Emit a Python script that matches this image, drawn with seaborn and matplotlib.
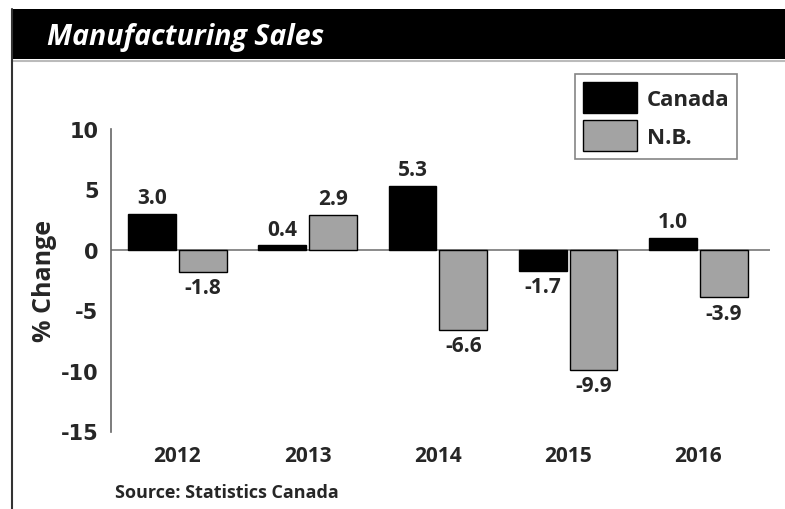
import pandas as pd
import seaborn as sns
import matplotlib.pyplot as plt
from matplotlib.patches import Rectangle
from matplotlib.lines import Line2D

years = ["2012", "2013", "2014", "2015", "2016"]
canada = [3.0, 0.4, 5.3, -1.7, 1.0]
nb = [-1.8, 2.9, -6.6, -9.9, -3.9]
regions = ["Canada", "N.B."]

df = pd.DataFrame({
    "Year": years * 2,
    "Change": canada + nb,
    "Region": [regions[0]] * len(years) + [regions[1]] * len(years),
})

sns.set_style("white")
plt.rcParams["font.family"] = ["Open Sans", "DejaVu Sans"]

W, H = 785, 510
fig = plt.figure(figsize=(W / 100, H / 100), dpi=100)
ax = fig.add_axes([111 / W, 1 - 432.5 / H, (770 - 111) / W, (432.5 - 130) / H])

sns.barplot(data=df, x="Year", y="Change", hue="Region",
            palette=["#000000", "#a3a3a3"], edgecolor="black", linewidth=1,
            width=0.78, gap=0.06, ax=ax)

for cont in ax.containers:
    ax.bar_label(cont, fmt="%.1f", padding=4, fontsize=15, fontweight="bold")

ax.set_ylim(-15, 10)
ax.set_xlim(-0.51, 4.55)
ax.set_yticks([-15, -10, -5, 0, 5, 10])
ax.set_yticklabels(["-15", "-10", "-5", "0", "5", "10"],
                   family="DejaVu Sans", fontweight="bold", fontsize=15)
ax.axhline(0, color="#777777", linewidth=1.2, zorder=0)
for s in ["top", "right", "bottom"]:
    ax.spines[s].set_visible(False)
ax.spines["left"].set_color("#666666")
ax.spines["left"].set_linewidth(1.2)
ax.tick_params(axis="y", length=0, pad=9)
ax.tick_params(axis="x", length=0, pad=10, labelsize=15)
for lab in ax.get_xticklabels():
    lab.set_fontweight("bold")
ax.set_xlabel("")
ax.set_ylabel("% Change", fontsize=18, fontweight="bold", labelpad=3)

leg = ax.legend(loc="upper right", bbox_to_anchor=(737 / W, 1 - 75 / H),
                bbox_transform=fig.transFigure, fontsize=16, frameon=True,
                fancybox=False, handlelength=2.4, handleheight=1.8,
                borderpad=0.35, labelspacing=0.3, handletextpad=0.45,
                borderaxespad=0)
leg.get_frame().set_edgecolor("#666666")
leg.get_frame().set_linewidth(1.2)
for t in leg.get_texts():
    t.set_fontweight("bold")

# title bar and frame
fig.patches.append(Rectangle((12 / W, 1 - 60 / H), 1, 50 / H, transform=fig.transFigure,
                             facecolor="black", edgecolor="none", zorder=0))
fig.lines.append(Line2D([12 / W, 1], [1 - 62 / H] * 2, transform=fig.transFigure,
                        color="#bbbbbb", linewidth=1.5))
fig.lines.append(Line2D([12 / W, 12 / W], [0, 1 - 10 / H], transform=fig.transFigure,
                        color="#333333", linewidth=1.5))
fig.text(47 / W, 1 - 37 / H, "Manufacturing Sales", color="white", fontsize=20.5,
         fontweight="bold", fontstyle="italic", va="center", ha="left")
fig.text(115 / W, 1 - 493 / H, "Source: Statistics Canada", fontsize=13,
         fontweight="bold", va="center", ha="left")

fig.savefig("out.png", dpi=100)
